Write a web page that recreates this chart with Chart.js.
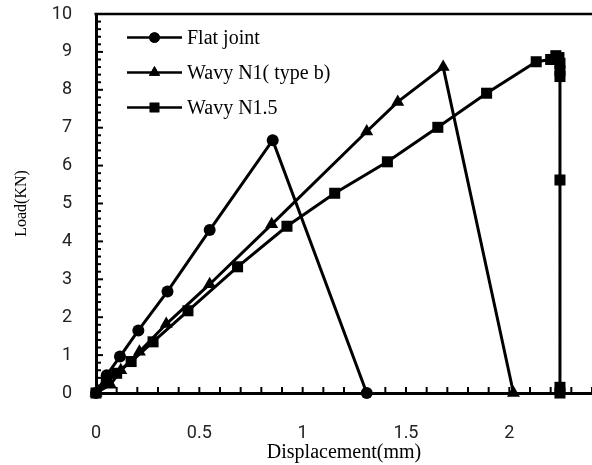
<!DOCTYPE html>
<html><head><meta charset="utf-8">
<script src="https://cdn.jsdelivr.net/npm/chart.js"></script>
<style>html,body{margin:0;padding:0;background:#fff;overflow:hidden}#wrap{width:592px;height:465px;position:relative}</style>
</head><body><div id="wrap"><canvas id="c" width="592" height="465"></canvas></div>
<script>
const seriesNames = ['Flat joint', 'Wavy N1( type b)', 'Wavy N1.5'];
const pointStyles = ['circle', 'triangle', 'rect'];
const flatX = [0, 0.052, 0.116, 0.205, 0.346, 0.55, 0.855, 1.31];
const flatY = [0, 0.47, 0.96, 1.65, 2.68, 4.3, 6.67, 0];
const n1X = [0, 0.07, 0.12, 0.21, 0.34, 0.55, 0.85, 1.31, 1.46, 1.68, 2.02];
const n1Y = [0, 0.22, 0.6, 1.09, 1.82, 2.87, 4.45, 6.9, 7.68, 8.6, 0];
const n15X = [0, 0.05, 0.1, 0.17, 0.276, 0.445, 0.685, 0.924, 1.155, 1.41, 1.654, 1.89, 2.13, 2.2, 2.225, 2.24, 2.245, 2.245, 2.245, 2.245, 2.245, 2.245];
const n15Y = [0, 0.3, 0.52, 0.83, 1.35, 2.17, 3.33, 4.4, 5.27, 6.1, 7.01, 7.91, 8.74, 8.8, 8.9, 8.85, 8.7, 8.5, 8.35, 5.62, 0.15, 0];
const xTickLabels = ['0', '0.5', '1', '1.5', '2'];
const yTickLabels = ['0','1','2','3','4','5','6','7','8','9','10'];

function pts(xs, ys){ return xs.map((x,i)=>({x:x, y:ys[i]})); }
const radii = [6, 7.5, 7.8];
const allX = [flatX, n1X, n15X], allY = [flatY, n1Y, n15Y];
const datasets = seriesNames.map((name,i)=>({
  label: name,
  data: pts(allX[i], allY[i]),
  borderColor: '#000', backgroundColor: '#000',
  pointBackgroundColor: '#000', pointBorderColor: '#000',
  borderWidth: 3, pointRadius: radii[i], pointBorderWidth: 0,
  pointStyle: pointStyles[i], tension: 0, clip: false, fill: false
}));

function near(v, list){ return list.find(l => Math.abs(parseFloat(l) - v) < 1e-6); }

const decor = {
  id: 'decor',
  afterDatasetsDraw(chart){
    const ctx = chart.ctx, ca = chart.chartArea;
    const xs = chart.scales.x, ys = chart.scales.y;
    ctx.save();
    ctx.strokeStyle = '#000';
    ctx.lineWidth = 2;
    xs.ticks.forEach(t => {
      const px = xs.getPixelForValue(t.value);
      ctx.beginPath(); ctx.moveTo(px, ca.bottom); ctx.lineTo(px, ca.bottom - 6); ctx.stroke();
    });
    ys.ticks.forEach(t => {
      const py = ys.getPixelForValue(t.value);
      const major = Math.abs(t.value - Math.round(t.value)) < 1e-6;
      ctx.beginPath(); ctx.moveTo(ca.left, py); ctx.lineTo(ca.left + (major ? 7 : 5), py); ctx.stroke();
    });
    ctx.lineWidth = 2.5;
    ctx.beginPath(); ctx.moveTo(ca.left - 1.5, ca.top); ctx.lineTo(chart.width, ca.top); ctx.stroke();
    const lx0 = ca.left + 31, lx1 = ca.left + 86, rowY = [37.5, 72.5, 107.5];
    const lr = [5.3, 6.5, 6.8];
    chart.data.datasets.forEach((ds, i) => {
      const y = rowY[i];
      ctx.lineWidth = 2.5; ctx.strokeStyle = '#000';
      ctx.beginPath(); ctx.moveTo(lx0, y); ctx.lineTo(lx1, y); ctx.stroke();
      ctx.fillStyle = '#000';
      Chart.helpers.drawPoint(ctx, {pointStyle: ds.pointStyle, radius: lr[i], rotation: 0, borderWidth: 0}, (lx0 + lx1) / 2, y);
      ctx.fill();
      ctx.font = '20px "Liberation Serif", "Times New Roman", serif';
      ctx.textBaseline = 'middle'; ctx.textAlign = 'left';
      ctx.fillText(ds.label, lx1 + 5, y + 1);
    });
    ctx.restore();
  }
};

new Chart(document.getElementById('c'), {
  type: 'line',
  data: { datasets },
  options: {
    responsive: false, animation: false,
    layout: { autoPadding: false, padding: { top: 14, right: 0, left: 0, bottom: 0 } },
    plugins: { legend: { display: false }, tooltip: { enabled: false } },
    scales: {
      x: {
        type: 'linear', min: 0, max: 2.4,
        grid: { display: false, drawTicks: false },
        border: { display: true, color: '#000', width: 3 },
        ticks: {
          stepSize: 0.1, autoSkip: false, maxRotation: 0, padding: 30,
          color: '#222', font: { family: 'Roboto', size: 18 },
          callback: (v) => near(v, xTickLabels) || ''
        },
        title: { display: true, text: 'Displacement(mm)', color: '#000',
          font: { family: '"Liberation Serif", "Times New Roman", serif', size: 20 },
          padding: { top: 0, bottom: 0 } },
        afterFit: (s) => { s.height = 72; s.paddingLeft = 0; s.paddingRight = 0; }
      },
      y: {
        type: 'linear', min: 0, max: 10,
        grid: { display: false, drawTicks: false },
        border: { display: true, color: '#000', width: 3 },
        ticks: {
          stepSize: 0.2, autoSkip: false, padding: 24,
          color: '#222', font: { family: 'Roboto', size: 18 },
          callback: (v) => near(v, yTickLabels) || ''
        },
        title: { display: true, text: 'Load(KN)', color: '#000',
          font: { family: '"Liberation Serif", "Times New Roman", serif', size: 16 },
          padding: { top: 12, bottom: 0 } },
        afterFit: (s) => { s.width = 96; s.paddingTop = 0; s.paddingBottom = 0; }
      }
    }
  },
  plugins: [decor]
});
</script></body></html>
